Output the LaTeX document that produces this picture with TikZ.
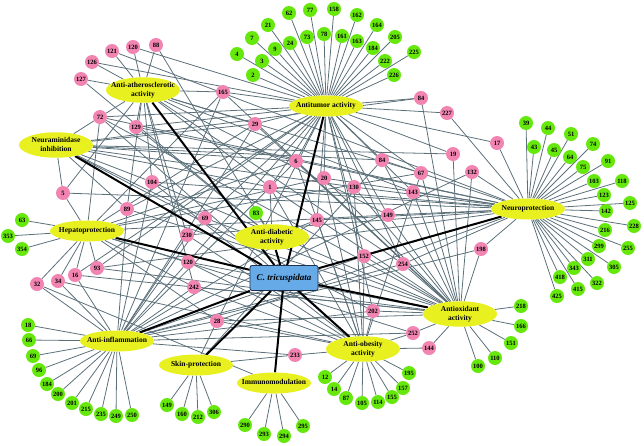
\documentclass[tikz,border=0pt]{standalone}
\usepackage{fontspec}
\setmainfont{Liberation Serif}
\usetikzlibrary{shapes.geometric,backgrounds}

\definecolor{actyellow}{RGB}{232,240,32}
\definecolor{cmppink}{RGB}{242,132,178}
\definecolor{cmpgreen}{RGB}{102,232,12}
\definecolor{boxblue}{RGB}{102,170,232}
\definecolor{boxedge}{RGB}{30,50,80}
\definecolor{linkgray}{RGB}{92,112,122}

\newcommand{\acttext}[1]{\makebox[0pt]{\begin{tabular}{@{}c@{}}#1\end{tabular}}}

\tikzset{
  act/.style={ellipse,fill=actyellow,minimum width=74pt,minimum height=21pt,
    inner sep=0pt,font=\fontsize{7.5}{9}\selectfont\bfseries},
  cmp/.style={circle,fill=cmppink,minimum size=14pt,inner sep=0pt,
    font=\fontsize{6.5}{7}\selectfont\bfseries},
  gcmp/.style={cmp,fill=cmpgreen},
  link/.style={linkgray,line width=0.8pt},
  main/.style={black,line width=2pt},
}

\begin{document}
\begin{tikzpicture}[x=1pt,y=-1pt]
    \useasboundingbox (0,0) rectangle (644,445);
    % the plant
    \node[draw=boxedge,line width=0.8pt,fill=boxblue,rounded corners=2pt,minimum width=68pt,
        minimum height=25pt,inner sep=0pt,
        font=\fontsize{9}{10}\selectfont\bfseries\itshape] (ct) at (284,278) {C. tricuspidata};
    % activities
    \node[act] (athero) at (143,90)  {\acttext{Anti-atherosclerotic\\activity}};
    \node[act] (tumor)  at (326,106) {\acttext{Antitumor activity}};
    \node[act] (neura)  at (56,145)  {\acttext{Neuraminidase\\inhibition}};
    \node[act] (hepato) at (87,231)  {\acttext{Hepatoprotection}};
    \node[act] (diab)   at (272,237) {\acttext{Anti-diabetic\\activity}};
    \node[act] (neuro)  at (528,209) {\acttext{Neuroprotection}};
    \node[act] (oxid)   at (460,314) {\acttext{Antioxidant\\activity}};
    \node[act] (inflam) at (117,341) {\acttext{Anti-inflammation}};
    \node[act] (skin)   at (196,365) {\acttext{Skin-protection}};
    \node[act] (obes)   at (363,349) {\acttext{Anti-obesity\\activity}};
    \node[act] (immuno) at (274,383) {\acttext{Immunomodulation}};

    % compounds with one activity
    \foreach \n/\x/\y in {2/253/75,3/262/61,4/237/54,7/252/38,9/275/49,21/268/25,
        24/290/43,62/289/13,73/307/37,77/310/10,78/324/34,158/334/9,161/342/36,
        162/357/15,163/357/41,164/377/25,184/373/48,205/395/37,222/385/61,
        225/414/52,226/394/75}{
        \node[gcmp] (t\n) at (\x,\y) {\n};
        \begin{pgfonlayer}{background}\draw[link] (t\n) -- (tumor);\end{pgfonlayer}
    }
    \foreach \n/\x/\y in {39/526/123,43/534/147,44/548/128,45/554/150,51/571/134,
        64/570/157,74/593/144,75/583/167,91/608/161,103/594/181,118/622/181,
        123/604/195,125/630/203,142/606/211,228/634/226,216/605/230,255/628/248,
        299/599/246,305/614/267,311/588/259,322/597/283,343/574/268,415/578/289,
        418/560/277,425/557/296}{
        \node[gcmp] (n\n) at (\x,\y) {\n};
        \begin{pgfonlayer}{background}\draw[link] (n\n) -- (neuro);\end{pgfonlayer}
    }
    \foreach \n/\x/\y in {63/22/220,353/8/236,354/22/249}{
        \node[gcmp] (h\n) at (\x,\y) {\n};
        \begin{pgfonlayer}{background}\draw[link] (h\n) -- (hepato);\end{pgfonlayer}
    }
    \foreach \n/\x/\y in {218/521/306,166/521/326,151/511/343,110/495/358,100/478/366}{
        \node[gcmp] (o\n) at (\x,\y) {\n};
        \begin{pgfonlayer}{background}\draw[link] (o\n) -- (oxid);\end{pgfonlayer}
    }
    \foreach \n/\x/\y in {18/28/325,66/29/340,69/33/356,96/39/370,184/47/384,
        200/58/394,201/72/403,215/86/409,235/101/414,249/116/416,250/132/415}{
        \node[gcmp] (i\n) at (\x,\y) {\n};
        \begin{pgfonlayer}{background}\draw[link] (i\n) -- (inflam);\end{pgfonlayer}
    }
    \foreach \n/\x/\y in {149/167/405,160/182/414,212/198/417,306/214/412}{
        \node[gcmp] (s\n) at (\x,\y) {\n};
        \begin{pgfonlayer}{background}\draw[link] (s\n) -- (skin);\end{pgfonlayer}
    }
    \foreach \n/\x/\y in {290/245/425,293/264/434,294/284/436,295/303/426}{
        \node[gcmp] (m\n) at (\x,\y) {\n};
        \begin{pgfonlayer}{background}\draw[link] (m\n) -- (immuno);\end{pgfonlayer}
    }
    \foreach \n/\x/\y in {12/325/377,14/334/389,87/346/398,105/362/403,
        114/378/402,155/392/397,157/403/388,195/409/373}{
        \node[gcmp] (b\n) at (\x,\y) {\n};
        \begin{pgfonlayer}{background}\draw[link] (b\n) -- (obes);\end{pgfonlayer}
    }
    \node[gcmp] (d83) at (256,213) {83};
    \begin{pgfonlayer}{background}\draw[link] (d83) -- (diab);\end{pgfonlayer}

    % compounds with several activities
    \foreach \n/\lbl/\x/\y in {p88/88/156/45,p120a/120/133/47,p121/121/112/51,
        p126/126/92/62,p127/127/81/79,p72/72/100/117,p129/129/136/127,
        p165/165/223/92,p29/29/255/124,p84a/84/421/98,p227/227/447/113,
        p17/17/497/143,p6/6/296/161,p1/1/270/187,p20/20/324/178,p84b/84/382/160,
        p67/67/421/173,p130/130/354/187,p143/143/413/192,p19/19/453/154,
        p132/132/472/172,p104/104/152/182,p5/5/63/193,p89/89/127/209,
        p69/69/205/218,p230/230/187/235,p120b/120/188/262,p93/93/97/268,
        p16/16/75/275,p34/34/58/281,p32/32/37/284,p242/242/194/287,
        p28/28/217/321,p145/145/317/220,p149/149/388/215,p152/152/364/256,
        p254/254/403/264,p198/198/481/249,p202/202/373/311,p252/252/413/333,
        p233/233/295/355,p144/144/429/348}
        \node[cmp] (\n) at (\x,\y) {\lbl};

    \begin{pgfonlayer}{background}
    \foreach \c/\acts in {p88/{athero,diab},p120a/{athero,tumor},
        p121/{athero,neuro},p126/{athero,tumor},p127/{athero,diab},
        p72/{athero,neura,hepato,tumor,neuro,obes,oxid},
        p129/{athero,tumor,neuro,diab},p165/{athero,tumor,hepato,inflam,oxid},
        p29/{tumor,athero,neura,hepato,oxid,inflam},p84a/{tumor,oxid,neura},
        p227/{tumor,neuro},p17/{tumor,neuro},
        p6/{tumor,neura,inflam,oxid,hepato,obes},
        p1/{tumor,athero,neura,neuro,oxid,obes,diab},
        p20/{tumor,hepato,neuro,obes,oxid},p84b/{tumor,neura,oxid,skin,neuro},
        p67/{tumor,athero,oxid,obes,hepato},p130/{tumor,neura,obes,oxid,neuro},
        p143/{tumor,athero,oxid,neuro},p19/{neura,oxid,tumor},
        p132/{neuro,oxid,inflam},p104/{athero,neura,neuro,oxid,inflam,obes},
        p5/{neura,hepato,neuro,athero},p89/{neura,athero,inflam,oxid,tumor},
        p69/{neura,tumor,oxid,inflam},p230/{athero,neuro,inflam,obes},
        p120b/{hepato,tumor,oxid,inflam,obes},p93/{hepato,neuro,oxid,tumor},
        p16/{hepato,inflam,oxid,tumor},p34/{hepato,inflam,obes},
        p32/{hepato,inflam,immuno},p242/{hepato,oxid,athero,inflam,obes},
        p28/{inflam,neuro,oxid,tumor,skin,hepato,obes},
        p145/{tumor,diab,inflam,obes,neuro},p149/{tumor,athero,oxid,neuro,hepato},
        p152/{neuro,oxid,obes,inflam,tumor},p254/{neuro,oxid,tumor,inflam,athero},
        p198/{neuro,oxid,inflam},p202/{oxid,inflam,neura,tumor,obes},
        p252/{oxid,obes,inflam,hepato},p233/{obes,skin,inflam},p144/{oxid,obes}}
        \foreach \a in \acts \draw[link] (\c) -- (\a);
    % plant to activities
    \foreach \a in {athero,tumor,neura,hepato,diab,neuro,oxid,inflam,skin,obes,immuno}
        \draw[main] (ct) -- (\a);
    \end{pgfonlayer}
\end{tikzpicture}
\end{document}
